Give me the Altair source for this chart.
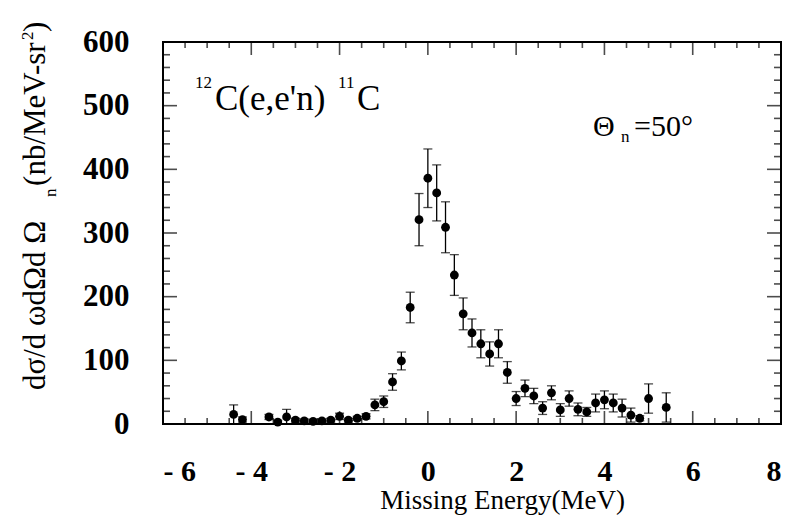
import altair as alt
import pandas as pd

# Missing energy (MeV)
energy = [-4.4, -4.2, -3.6, -3.4, -3.2, -3.0, -2.8, -2.6, -2.4, -2.2, -2.0, -1.8, -1.6, -1.4,
          -1.2, -1.0, -0.8, -0.6, -0.4, -0.2, 0.0, 0.2, 0.4, 0.6, 0.8, 1.0, 1.2, 1.4, 1.6, 1.8,
          2.0, 2.2, 2.4, 2.6, 2.8, 3.0, 3.2, 3.4, 3.6, 3.8, 4.0, 4.2, 4.4, 4.6, 4.8, 5.0, 5.4]
# cross section (nb/MeV-sr^2)
xsec = [15, 7, 11, 3, 11, 6, 5, 4, 5, 6, 12, 6, 9, 12,
        30, 35, 66, 99, 183, 321, 386, 363, 309, 234, 173, 143, 126, 110, 126, 81,
        40, 56, 44, 25, 49, 22, 40, 23, 19, 33, 38, 33, 25, 14, 9, 40, 26]
# error bar half-widths
xerr = [15, 4, 4, 3, 12, 3, 3, 3, 3, 3, 5, 3, 3, 4,
        9, 9, 13, 14, 24, 41, 46, 44, 40, 32, 25, 22, 22, 19, 22, 17,
        11, 13, 12, 10, 11, 10, 12, 10, 7, 14, 14, 14, 14, 11, 4, 23, 23]

x_major = [-6, -4, -2, 0, 2, 4, 6, 8]
x_minor = [-5.5, -5, -4.5, -3.5, -3, -2.5, -1.5, -1, -0.5, 0.5, 1, 1.5, 2.5, 3, 3.5, 4.5, 5, 5.5, 6.5, 7, 7.5]
y_major = [0, 100, 200, 300, 400, 500, 600]
y_minor = [20, 40, 60, 80, 120, 140, 160, 180, 220, 240, 260, 280, 320, 340, 360, 380,
           420, 440, 460, 480, 520, 540, 560, 580]

# in-plot annotation pieces (text, x in MeV, y in nb/MeV-sr^2, font size)
note_text = ["12", "C(e,e'n)", "11", "C", "\u0398", "n", "=50\u00b0"]
note_x = [-5.275, -4.822, -2.035, -1.605, 3.742, 4.376, 4.671]
note_y = [527.7, 493.2, 527.7, 493.2, 452.3, 442.9, 452.3]
note_size = [17, 35, 17, 35, 30, 17, 30]

# rotated y-axis title pieces (placed left of the frame)
ytitle_text = ["d\u03c3/d \u03c9d\u03a9d \u03a9", "n", "(nb/MeV-sr", "2", ")"]
ytitle_x = [-8.673, -8.424, -8.673, -8.945, -8.673]
ytitle_y = [53.4, 356.7, 374.0, 603.0, 615.6]
ytitle_size = [31, 17, 31, 17, 31]

W, H = 618, 382
FONT = "Liberation Serif"

df = pd.DataFrame({"x": energy, "y": xsec, "e": xerr})
df["lo"] = (df["y"] - df["e"]).clip(lower=0)
df["hi"] = df["y"] + df["e"]

xscale = alt.Scale(domain=[-6, 8], nice=False, zero=False)
yscale = alt.Scale(domain=[0, 600], nice=False)

xaxis = alt.Axis(values=x_major, title="Missing Energy(MeV)",
                 labelExpr="datum.value < 0 ? '- ' + abs(datum.value) : datum.label",
                 labelFont=FONT, labelFontWeight="bold", labelFontSize=30, labelColor="black",
                 labelPadding=32, ticks=False, tickSize=0, domain=False, grid=False,
                 titleFont=FONT, titleFontWeight="normal", titleFontSize=27, titleColor="black",
                 titleX=339, titleY=76, titleBaseline="middle", titleAlign="center")
yaxis = alt.Axis(values=y_major, title=None,
                 labelFont=FONT, labelFontWeight="bold", labelFontSize=31, labelColor="black",
                 labelPadding=34, labelBaseline="middle", ticks=False, tickSize=0, domain=False, grid=False)

base = alt.Chart(df)
bars = base.mark_rule(color="black", strokeWidth=1.3).encode(
    x=alt.X("x:Q", scale=xscale, axis=xaxis),
    y=alt.Y("lo:Q", scale=yscale, axis=yaxis),
    y2="hi:Q")
cap_hi = base.mark_tick(color="black", orient="horizontal", size=9, thickness=1.3).encode(
    x="x:Q", y="hi:Q")
cap_lo = base.mark_tick(color="black", orient="horizontal", size=9, thickness=1.3).encode(
    x="x:Q", y="lo:Q")
pts = base.mark_circle(size=78, color="black", opacity=1).encode(x="x:Q", y="y:Q")

xmaj = pd.DataFrame({"x": x_major})
xmin = pd.DataFrame({"x": x_minor})
ymaj = pd.DataFrame({"y": y_major})
ymin = pd.DataFrame({"y": y_minor})


def xt(d, L):
    b = alt.Chart(d).mark_tick(color="black", orient="vertical", size=L, thickness=1.6)
    return (b.encode(x="x:Q", y=alt.value(H - L / 2)) +
            b.encode(x="x:Q", y=alt.value(L / 2)))


def yt(d, L):
    b = alt.Chart(d).mark_tick(color="black", orient="horizontal", size=L, thickness=1.6)
    return (b.encode(y="y:Q", x=alt.value(L / 2)) +
            b.encode(y="y:Q", x=alt.value(W - L / 2)))


ndf = pd.DataFrame({"t": note_text, "x": note_x, "y": note_y, "s": note_size})
notes = alt.Chart(ndf).mark_text(font=FONT, align="left", baseline="alphabetic",
                                 color="black").encode(
    x="x:Q", y="y:Q", text="t:N", size=alt.Size("s:Q", scale=None, legend=None))

ydf = pd.DataFrame({"t": ytitle_text, "x": ytitle_x, "y": ytitle_y, "s": ytitle_size})
ytitle = alt.Chart(ydf).mark_text(font=FONT, align="left", baseline="alphabetic", angle=270,
                                  color="black").encode(
    x="x:Q", y="y:Q", text="t:N", size=alt.Size("s:Q", scale=None, legend=None))

chart = alt.layer(bars, cap_hi, cap_lo, pts, xt(xmaj, 13), xt(xmin, 6), yt(ymaj, 14), yt(ymin, 7),
                  notes, ytitle).properties(
    width=W, height=H, autosize="none",
    padding={"left": 163, "top": 42, "right": 9, "bottom": 98},
    background="white"
).configure_view(stroke="black", strokeWidth=2)

chart.save("out.html", embed_options={"renderer": "svg", "actions": False})
